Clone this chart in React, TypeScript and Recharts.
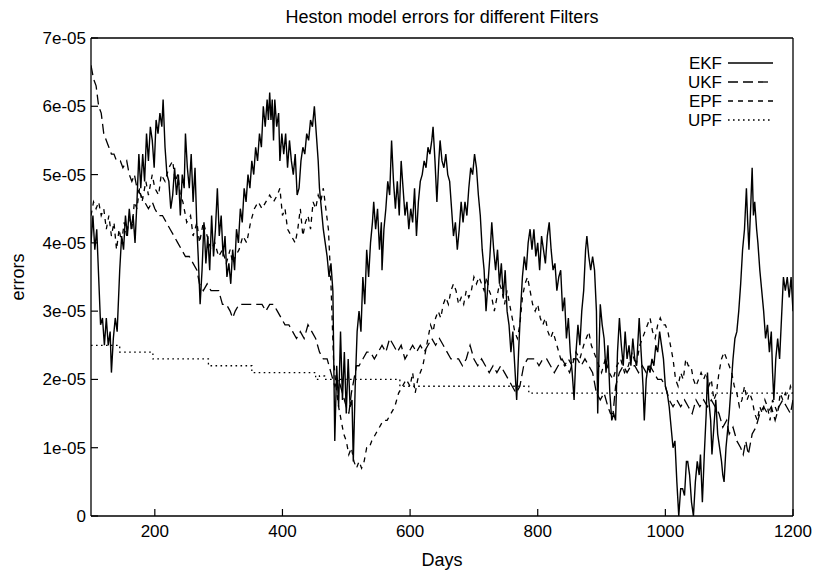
import React from 'react';
import { LineChart, Line, XAxis, YAxis, Legend } from 'recharts';

// x: days, y: error in units of 1e-05
const X_TICKS = [200, 400, 600, 800, 1000, 1200];
const Y_TICKS = [0, 1, 2, 3, 4, 5, 6, 7];
const TITLE = 'Heston model errors for different Filters';
const X_LABEL = 'Days';
const Y_LABEL = 'errors';

const EKF: [number, number][] = [
  [100, 4.0], [103, 4.4], [106, 3.9], [109, 4.2], [112, 3.5], [115, 2.8], [118, 2.9], [121, 2.5], [124, 2.9], [127, 2.5],
  [130, 2.7], [132, 2.1], [135, 2.6], [138, 2.9], [141, 2.7], [145, 3.6], [148, 4.1], [151, 3.9], [154, 4.4], [157, 4.1],
  [160, 4.5], [163, 4.2], [166, 4.4], [169, 4.0], [172, 4.6], [175, 5.3], [178, 4.8], [181, 5.3], [184, 4.9], [187, 5.6],
  [190, 5.2], [193, 5.7], [196, 5.5], [199, 5.1], [202, 5.8], [205, 5.6], [208, 5.9], [211, 5.7], [213, 6.1], [216, 5.4],
  [219, 5.0], [222, 4.9], [225, 4.5], [228, 4.7], [231, 5.1], [234, 4.7], [237, 5.0], [240, 4.4], [243, 5.0], [246, 4.8],
  [248, 5.6], [251, 5.1], [254, 4.8], [257, 5.3], [260, 4.6], [263, 5.1], [266, 4.2], [268, 3.8], [271, 3.1], [274, 3.6],
  [277, 4.3], [280, 3.7], [283, 4.1], [286, 3.6], [289, 4.4], [292, 3.8], [295, 4.2], [298, 4.8], [301, 4.1], [304, 4.4],
  [307, 3.8], [310, 4.1], [313, 3.5], [316, 3.7], [319, 3.4], [322, 3.9], [325, 3.6], [328, 4.2], [331, 4.0], [334, 4.5],
  [337, 4.3], [340, 4.8], [343, 4.6], [346, 5.0], [349, 4.8], [352, 5.2], [355, 5.0], [358, 5.4], [361, 5.2], [364, 5.6],
  [367, 5.4], [370, 6.0], [373, 5.7], [376, 6.1], [378, 5.8], [380, 6.2], [382, 5.8], [384, 6.1], [386, 5.5], [388, 6.1],
  [391, 5.7], [394, 5.9], [396, 5.2], [399, 5.6], [402, 5.3], [405, 5.6], [408, 5.1], [411, 5.5], [414, 5.2], [417, 5.0],
  [420, 5.3], [423, 4.7], [426, 4.8], [429, 5.2], [432, 5.4], [435, 5.3], [438, 5.6], [441, 5.5], [444, 5.8], [447, 5.7],
  [450, 6.0], [453, 5.6], [456, 5.2], [458, 4.8], [461, 4.5], [464, 4.2], [467, 4.0], [470, 3.8], [473, 3.5], [476, 3.7],
  [479, 3.3], [482, 1.1], [485, 2.2], [488, 1.6], [491, 2.7], [494, 1.7], [497, 2.4], [500, 1.5], [503, 2.3], [506, 1.6],
  [509, 1.7], [511, 0.8], [514, 1.9], [517, 2.7], [520, 3.0], [523, 2.7], [526, 3.5], [529, 3.1], [532, 3.9], [535, 3.5],
  [538, 4.0], [541, 4.3], [543, 4.6], [546, 4.2], [549, 4.5], [552, 3.9], [555, 4.3], [556, 3.6], [559, 4.2], [562, 4.5],
  [565, 4.9], [568, 4.7], [571, 5.5], [574, 4.9], [577, 4.5], [580, 4.9], [583, 4.4], [586, 5.2], [589, 4.8], [592, 4.4],
  [595, 4.6], [598, 4.2], [601, 4.5], [604, 4.3], [607, 4.8], [610, 4.1], [613, 4.6], [616, 4.9], [619, 5.0], [622, 5.2],
  [625, 5.1], [628, 5.4], [631, 5.3], [634, 5.5], [636, 5.7], [639, 5.2], [642, 4.6], [645, 5.2], [647, 5.5], [650, 5.2],
  [653, 5.1], [656, 5.3], [659, 5.0], [662, 4.9], [665, 4.5], [668, 4.1], [671, 4.3], [674, 3.9], [677, 4.2], [680, 4.6],
  [683, 4.3], [686, 4.6], [689, 4.4], [692, 4.8], [695, 5.1], [698, 5.0], [701, 5.3], [704, 5.1], [707, 4.7], [710, 4.4],
  [713, 3.9], [716, 3.6], [719, 3.0], [722, 3.4], [725, 3.8], [728, 4.3], [731, 3.9], [734, 3.6], [737, 3.9], [740, 3.4],
  [743, 3.7], [746, 3.2], [749, 3.6], [752, 3.0], [755, 2.8], [758, 2.4], [761, 2.7], [764, 2.2], [767, 1.7], [770, 2.4],
  [773, 3.0], [776, 3.5], [779, 3.8], [782, 3.6], [785, 4.0], [788, 4.2], [791, 3.9], [794, 4.2], [797, 3.8], [800, 4.0],
  [803, 3.6], [806, 4.1], [809, 3.9], [812, 3.7], [815, 4.1], [818, 4.3], [821, 3.9], [824, 3.6], [827, 3.7], [830, 3.3],
  [833, 3.5], [836, 3.6], [839, 3.0], [842, 3.2], [845, 2.6], [848, 2.9], [851, 2.4], [854, 2.1], [857, 1.7], [860, 2.4],
  [863, 2.8], [866, 2.5], [869, 3.0], [872, 3.3], [875, 3.9], [877, 4.1], [880, 3.8], [883, 3.6], [886, 3.8], [889, 3.6],
  [892, 3.0], [894, 1.5], [896, 2.4], [898, 3.1], [901, 2.8], [904, 2.6], [907, 2.1], [910, 2.5], [913, 1.8], [916, 1.4],
  [919, 1.5], [922, 1.4], [925, 2.4], [928, 2.9], [931, 2.5], [934, 2.2], [937, 2.7], [940, 2.3], [943, 2.5], [946, 2.2],
  [949, 2.6], [952, 2.3], [955, 2.2], [959, 2.9], [962, 2.4], [965, 1.9], [967, 1.4], [970, 2.0], [973, 2.2], [976, 2.1],
  [979, 2.3], [982, 2.2], [985, 2.5], [988, 2.4], [991, 2.7], [994, 2.5], [997, 2.3], [1000, 1.9], [1003, 1.8], [1006, 1.6],
  [1009, 1.3], [1012, 1.0], [1015, 1.1], [1018, 0.5], [1021, 0.0], [1024, 0.4], [1027, 0.4], [1030, 0.3], [1033, 0.8], [1035, 0.8],
  [1038, 0.6], [1041, 0.2], [1044, 0.0], [1047, 0.5], [1050, 0.8], [1053, 0.6], [1055, 0.9], [1058, 0.2], [1061, 0.9], [1064, 1.5],
  [1066, 2.1], [1068, 1.7], [1071, 1.4], [1073, 0.9], [1076, 1.3], [1079, 1.7], [1082, 1.2], [1085, 1.0], [1088, 0.8], [1090, 0.6],
  [1092, 0.5], [1095, 1.0], [1098, 1.3], [1100, 1.5], [1103, 1.9], [1106, 2.3], [1109, 2.6], [1112, 2.7], [1115, 3.0], [1118, 3.4],
  [1121, 3.9], [1124, 4.2], [1127, 4.8], [1129, 4.3], [1131, 3.9], [1134, 4.6], [1136, 5.1], [1138, 4.4], [1140, 4.6], [1143, 4.2],
  [1145, 4.0], [1148, 3.6], [1151, 3.3], [1154, 3.0], [1157, 2.6], [1160, 2.8], [1163, 2.4], [1166, 2.7], [1168, 2.1], [1170, 1.7],
  [1173, 2.3], [1176, 2.6], [1179, 2.3], [1182, 2.9], [1185, 3.5], [1188, 3.3], [1191, 3.5], [1194, 3.2], [1197, 3.5], [1200, 3.0],
];

const UKF: [number, number][] = [
  [100, 6.6], [104, 6.4], [108, 6.3], [112, 6.0], [116, 5.9], [120, 5.6], [124, 5.5], [128, 5.4], [132, 5.3], [136, 5.3],
  [140, 5.2], [146, 5.2], [150, 5.1], [156, 5.2], [160, 5.0], [164, 4.9], [168, 5.0], [172, 4.8], [178, 4.7], [184, 4.6],
  [190, 4.5], [196, 4.6], [200, 4.5], [206, 4.4], [212, 4.4], [218, 4.3], [224, 4.2], [230, 4.1], [236, 4.0], [242, 3.9],
  [248, 3.8], [254, 3.8], [260, 3.7], [266, 3.6], [270, 3.4], [276, 3.3], [282, 3.4], [288, 3.3], [294, 3.3], [300, 3.3],
  [306, 3.1], [312, 3.1], [318, 3.0], [322, 2.9], [326, 3.0], [332, 3.1], [338, 3.1], [344, 3.1], [350, 3.1], [356, 3.1],
  [362, 3.1], [368, 3.1], [374, 3.0], [380, 3.1], [386, 3.1], [392, 3.0], [398, 2.9], [404, 2.8], [410, 2.8], [416, 2.7],
  [422, 2.6], [428, 2.7], [434, 2.6], [440, 2.8], [446, 2.7], [452, 2.6], [458, 2.4], [464, 2.3], [470, 2.3], [476, 2.1],
  [482, 1.9], [488, 2.0], [494, 1.8], [500, 1.6], [504, 1.5], [508, 1.8], [512, 2.0], [516, 2.2], [520, 2.2], [526, 2.3],
  [532, 2.4], [538, 2.4], [544, 2.3], [550, 2.4], [556, 2.5], [562, 2.4], [568, 2.6], [574, 2.5], [580, 2.4], [586, 2.5],
  [592, 2.3], [598, 2.4], [604, 2.5], [610, 2.4], [616, 2.5], [622, 2.4], [628, 2.5], [634, 2.6], [640, 2.5], [646, 2.6],
  [652, 2.5], [658, 2.4], [664, 2.3], [670, 2.3], [676, 2.3], [682, 2.2], [688, 2.3], [694, 2.5], [700, 2.3], [706, 2.2],
  [712, 2.3], [718, 2.2], [724, 2.1], [730, 2.2], [736, 2.1], [742, 2.2], [748, 2.1], [754, 2.0], [760, 1.9], [766, 1.8],
  [772, 1.9], [778, 2.2], [784, 2.3], [790, 2.3], [796, 2.3], [802, 2.2], [808, 2.3], [814, 2.3], [820, 2.2], [826, 2.1],
  [832, 2.2], [838, 2.3], [844, 2.2], [850, 2.1], [856, 2.3], [862, 2.3], [868, 2.2], [874, 2.3], [880, 2.2], [886, 2.1],
  [892, 1.8], [898, 1.7], [904, 1.8], [910, 1.6], [914, 1.5], [918, 1.5], [922, 1.9], [928, 2.1], [934, 2.2], [940, 2.1],
  [946, 2.2], [952, 2.2], [958, 2.1], [964, 2.2], [970, 2.1], [976, 2.2], [982, 2.1], [988, 2.0], [994, 2.0], [1000, 1.9],
  [1006, 1.7], [1012, 1.6], [1018, 1.7], [1024, 1.6], [1030, 1.7], [1036, 1.6], [1042, 1.5], [1048, 1.7], [1054, 1.6], [1060, 1.7],
  [1066, 1.6], [1072, 1.7], [1078, 1.6], [1084, 1.5], [1090, 1.3], [1096, 1.4], [1100, 1.2], [1106, 1.3], [1112, 1.1], [1118, 1.0],
  [1122, 0.9], [1126, 1.1], [1130, 0.9], [1136, 1.2], [1142, 1.3], [1148, 1.5], [1154, 1.6], [1160, 1.5], [1166, 1.6], [1172, 1.4],
  [1178, 1.6], [1184, 1.7], [1190, 1.6], [1196, 1.5], [1200, 1.7],
];

const EPF: [number, number][] = [
  [100, 4.4], [104, 4.6], [108, 4.5], [112, 4.6], [116, 4.4], [120, 4.5], [124, 4.2], [128, 4.4], [132, 4.1], [136, 4.3],
  [140, 3.9], [144, 4.2], [148, 4.0], [152, 4.3], [156, 4.1], [160, 4.4], [164, 4.2], [168, 4.6], [172, 4.5], [176, 4.8],
  [180, 4.6], [186, 4.9], [190, 4.7], [196, 5.0], [200, 4.8], [206, 4.7], [210, 5.0], [216, 4.9], [222, 5.1], [228, 5.2],
  [232, 4.9], [236, 5.0], [240, 4.7], [244, 4.6], [250, 4.3], [256, 4.4], [260, 4.1], [266, 4.3], [270, 4.0], [276, 4.3],
  [282, 4.1], [288, 3.9], [294, 4.0], [300, 3.8], [306, 3.9], [312, 3.7], [318, 3.9], [322, 3.7], [326, 3.8], [332, 3.9],
  [338, 4.1], [344, 4.0], [350, 4.3], [356, 4.5], [362, 4.6], [368, 4.5], [374, 4.6], [380, 4.7], [386, 4.6], [392, 4.7],
  [396, 4.8], [400, 4.4], [404, 4.5], [408, 4.2], [414, 4.1], [420, 4.0], [424, 4.2], [428, 4.5], [432, 4.1], [436, 4.3],
  [440, 4.4], [444, 4.2], [448, 4.6], [452, 4.5], [456, 4.7], [460, 4.6], [464, 4.8], [468, 4.5], [472, 4.2], [476, 3.4],
  [480, 2.3], [484, 1.9], [488, 1.6], [492, 1.4], [496, 1.2], [500, 1.1], [504, 0.9], [508, 1.0], [512, 0.8], [516, 0.7],
  [520, 0.8], [524, 0.7], [528, 0.8], [532, 1.0], [536, 1.0], [540, 1.1], [546, 1.2], [552, 1.3], [558, 1.4], [564, 1.4],
  [570, 1.5], [576, 1.6], [582, 1.8], [588, 1.9], [594, 2.0], [600, 1.9], [604, 2.1], [608, 1.8], [612, 2.0], [616, 2.1],
  [620, 2.2], [624, 2.4], [628, 2.6], [632, 2.8], [636, 2.7], [640, 2.9], [644, 3.0], [648, 2.9], [652, 3.1], [656, 3.2],
  [660, 3.1], [664, 3.3], [668, 3.4], [672, 3.3], [676, 3.1], [680, 3.2], [684, 3.1], [688, 3.3], [692, 3.2], [696, 3.3],
  [700, 3.5], [704, 3.4], [708, 3.5], [712, 3.4], [716, 3.3], [720, 3.5], [724, 3.3], [728, 3.2], [732, 3.0], [736, 3.2],
  [740, 3.4], [744, 3.3], [748, 3.1], [752, 3.3], [756, 3.1], [760, 2.9], [764, 2.7], [768, 2.6], [772, 2.8], [776, 3.2],
  [780, 3.4], [784, 3.5], [788, 3.3], [792, 3.1], [796, 3.0], [800, 3.1], [804, 2.9], [808, 2.8], [812, 2.9], [816, 2.7],
  [820, 2.6], [824, 2.7], [830, 2.5], [836, 2.3], [842, 2.2], [848, 2.3], [854, 2.2], [860, 2.4], [866, 2.3], [872, 2.5],
  [876, 2.6], [880, 2.7], [884, 2.5], [888, 2.4], [892, 2.3], [896, 2.2], [900, 2.1], [906, 2.3], [912, 2.1], [918, 2.0],
  [924, 2.2], [930, 2.3], [936, 2.1], [942, 2.2], [948, 2.4], [954, 2.2], [960, 2.5], [964, 2.6], [968, 2.7], [972, 2.8],
  [976, 2.9], [980, 2.7], [984, 2.6], [988, 2.8], [992, 2.9], [996, 2.8], [1000, 2.8], [1004, 2.7], [1008, 2.5], [1012, 2.3],
  [1016, 2.0], [1020, 1.9], [1024, 2.1], [1028, 2.0], [1032, 2.3], [1036, 2.2], [1040, 2.2], [1044, 2.0], [1048, 1.9], [1052, 2.0],
  [1056, 2.1], [1060, 2.0], [1064, 2.1], [1068, 1.9], [1072, 2.0], [1076, 1.7], [1080, 1.8], [1084, 2.1], [1088, 2.3], [1092, 2.4],
  [1096, 2.3], [1100, 2.2], [1104, 2.1], [1108, 1.9], [1112, 1.8], [1116, 1.6], [1120, 1.7], [1124, 1.9], [1128, 1.7], [1132, 1.8],
  [1136, 1.7], [1140, 1.5], [1144, 1.4], [1148, 1.6], [1152, 1.5], [1156, 1.7], [1160, 1.6], [1164, 1.4], [1168, 1.7], [1172, 1.6],
  [1176, 1.5], [1180, 1.8], [1184, 1.7], [1188, 1.8], [1192, 1.7], [1196, 1.9], [1200, 1.8],
];

const UPF: [number, number][] = [
  [100, 2.5], [145, 2.4], [197, 2.3], [284, 2.2], [352, 2.1], [452, 2.0], [458, 2.05], [466, 2.0], [584, 1.9], [786, 1.8], [1200, 1.8],
];

const FONT = '"Liberation Sans", Arial, Helvetica, sans-serif';

type Series = { name: string; points: [number, number][]; dash?: string; step?: boolean; width: number };
const SERIES: Series[] = [
  { name: 'EKF', points: EKF, width: 1.4 },
  { name: 'UKF', points: UKF, dash: '10 5', width: 1.3 },
  { name: 'EPF', points: EPF, dash: '5 5', width: 1.3 },
  { name: 'UPF', points: UPF, dash: '1.6 3.4', step: true, width: 1.3 },
];

const toRows = (pts: [number, number][]) => pts.map(([day, err]) => ({ day, err }));

const fmtY = (v: number) => (v === 0 ? '0' : `${v}e-05`);

const LegendBox = () => (
  <svg width={160} height={80} style={{ display: 'block' }}>
    {SERIES.map((s, i) => {
      const cy = 10 + i * 19;
      return (
        <g key={s.name}>
          <text x={82} y={cy} dy="0.35em" textAnchor="end" fontSize={17} fontFamily={FONT} fill="#000">
            {s.name}
          </text>
          <line x1={88} x2={133} y1={cy} y2={cy} stroke="#000" strokeWidth={s.width} strokeDasharray={s.dash} />
        </g>
      );
    })}
  </svg>
);

export default function App() {
  const tickStyle = { fontSize: 17, fill: '#000', fontFamily: FONT };
  return (
    <div style={{ position: 'absolute', left: 0, top: 0, width: 813, height: 576, background: '#fff' }}>
      <div
        style={{
          position: 'absolute', left: 0, width: 884, top: 7, textAlign: 'center',
          fontFamily: FONT, fontSize: 18, lineHeight: '20px', color: '#000',
        }}
      >
        {TITLE}
      </div>
      <div
        style={{
          position: 'absolute', left: 0, width: 884, top: 550, textAlign: 'center',
          fontFamily: FONT, fontSize: 18, lineHeight: '20px', color: '#000',
        }}
      >
        {X_LABEL}
      </div>
      <div
        style={{
          position: 'absolute', left: 18, top: 277, width: 100, marginLeft: -50, marginTop: -10,
          textAlign: 'center', transform: 'rotate(-90deg)',
          fontFamily: FONT, fontSize: 18, lineHeight: '20px', color: '#000',
        }}
      >
        {Y_LABEL}
      </div>
      <LineChart width={813} height={576} margin={{ top: 0, right: 0, bottom: 0, left: 0 }}>
        <XAxis
          xAxisId={0}
          dataKey="day"
          type="number"
          domain={[100, 1200]}
          ticks={X_TICKS}
          allowDataOverflow
          height={60}
          tickSize={-7}
          tickMargin={16}
          tick={tickStyle}
          stroke="#000"
          axisLine={{ stroke: '#000', strokeWidth: 1.3 }}
          tickLine={{ stroke: '#000', strokeWidth: 1.2 }}
        />
        <XAxis
          xAxisId="top"
          orientation="top"
          dataKey="day"
          type="number"
          domain={[100, 1200]}
          ticks={X_TICKS}
          allowDataOverflow
          height={38}
          tickSize={-7}
          tick={false}
          axisLine={{ stroke: '#000', strokeWidth: 1.3 }}
          tickLine={{ stroke: '#000', strokeWidth: 1.2 }}
        />
        <YAxis
          yAxisId={0}
          type="number"
          domain={[0, 7]}
          ticks={Y_TICKS}
          allowDataOverflow
          width={91}
          tickSize={-7}
          tickMargin={12}
          tickFormatter={fmtY}
          tick={tickStyle}
          axisLine={{ stroke: '#000', strokeWidth: 1.3 }}
          tickLine={{ stroke: '#000', strokeWidth: 1.2 }}
        />
        <YAxis
          yAxisId="right"
          orientation="right"
          type="number"
          domain={[0, 7]}
          ticks={Y_TICKS}
          allowDataOverflow
          width={20}
          tickSize={-7}
          tick={false}
          axisLine={{ stroke: '#000', strokeWidth: 1.3 }}
          tickLine={{ stroke: '#000', strokeWidth: 1.2 }}
        />
        {SERIES.map((s) => (
          <Line
            key={s.name}
            name={s.name}
            data={toRows(s.points)}
            dataKey="err"
            xAxisId={0}
            yAxisId={0}
            type={s.step ? 'stepAfter' : 'linear'}
            stroke="#000"
            strokeWidth={s.width}
            strokeDasharray={s.dash}
            dot={false}
            activeDot={false}
            isAnimationActive={false}
          />
        ))}
        <Legend
          layout="horizontal"
          verticalAlign="middle"
          align="center"
          content={() => <LegendBox />}
          wrapperStyle={{ left: 640, top: 53, width: 160, height: 80 }}
        />
      </LineChart>
    </div>
  );
}
